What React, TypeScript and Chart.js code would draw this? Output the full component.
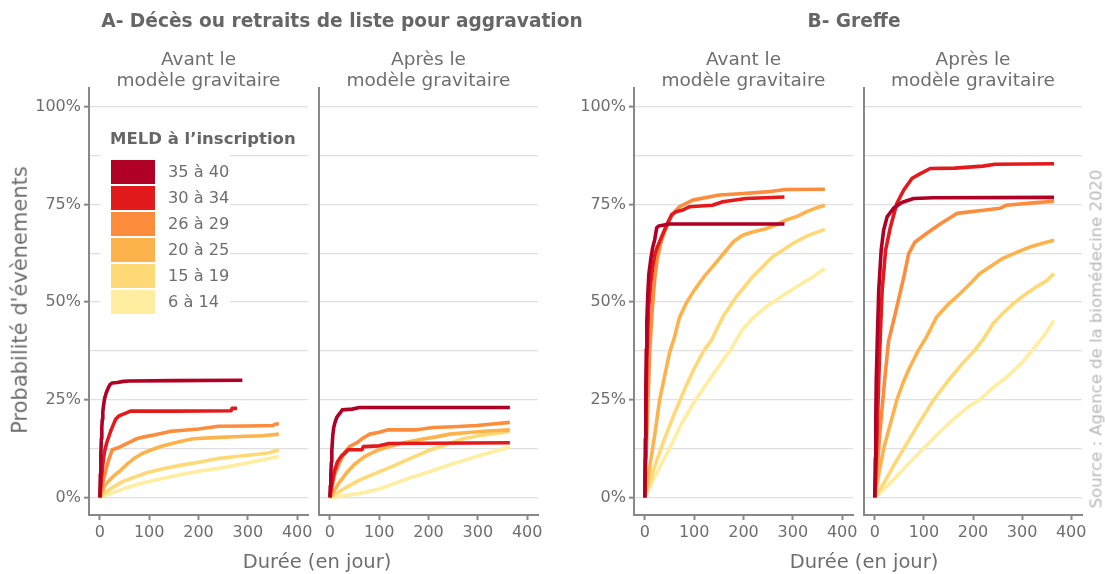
import React, { useEffect, useRef } from 'react';
import { Chart, registerables } from 'chart.js';
Chart.register(...registerables);

type Pt = [number, number];

const MELD_GROUPS = ['35 à 40', '30 à 34', '26 à 29', '20 à 25', '15 à 19', '6 à 14'];
const COLORS = ['#b10026', '#e31a1c', '#fd8d3c', '#feb24c', '#fed976', '#ffeda0'];
const X_TICKS = [0, 100, 200, 300, 400];
const Y_MAJOR = [0, 0.25, 0.5, 0.75, 1];
const Y_MINOR = [0.125, 0.375, 0.625, 0.875];

// A - Avant le modèle gravitaire
const a1_3540: Pt[] = [[0,0],[1,0.06],[2,0.11],[3,0.15],[4,0.18],[5,0.2],[6,0.22],[8,0.24],[10,0.255],[13,0.268],[17,0.28],[20,0.288],[25,0.293],[35,0.294],[48,0.297],[60,0.298],[150,0.299],[289,0.3]];
const a1_3034: Pt[] = [[0,0],[2,0.03],[4,0.06],[6,0.085],[8,0.105],[10,0.12],[14,0.14],[18,0.155],[22,0.17],[27,0.185],[32,0.2],[38,0.208],[45,0.212],[55,0.217],[62,0.221],[150,0.221],[266,0.222],[268,0.228],[278,0.228]];
const a1_2629: Pt[] = [[0,0],[3,0.02],[6,0.04],[10,0.058],[14,0.08],[19,0.1],[25,0.122],[37,0.127],[50,0.135],[62,0.142],[74,0.15],[90,0.155],[110,0.16],[142,0.169],[170,0.172],[200,0.175],[240,0.182],[300,0.183],[351,0.184],[356,0.188],[363,0.188]];
const a1_2025: Pt[] = [[0,0],[5,0.015],[10,0.03],[20,0.045],[30,0.057],[40,0.067],[55,0.085],[70,0.1],[85,0.112],[105,0.122],[125,0.131],[142,0.137],[165,0.144],[189,0.15],[230,0.153],[284,0.156],[330,0.158],[363,0.162]];
const a1_1519: Pt[] = [[0,0],[10,0.012],[25,0.025],[47,0.041],[70,0.052],[95,0.063],[125,0.073],[162,0.082],[200,0.09],[243,0.1],[285,0.106],[325,0.111],[345,0.115],[363,0.122]];
const a1_614: Pt[] = [[0,0],[15,0.007],[35,0.016],[61,0.028],[90,0.038],[125,0.048],[162,0.058],[200,0.067],[243,0.075],[285,0.085],[325,0.095],[363,0.105]];

// A - Après le modèle gravitaire
const a2_3540: Pt[] = [[0,0],[1,0.03],[2,0.06],[3,0.09],[4,0.12],[6,0.16],[8,0.18],[10,0.19],[14,0.205],[20,0.215],[25,0.224],[45,0.226],[60,0.23],[365,0.23]];
const a2_3034: Pt[] = [[0,0],[3,0.025],[5,0.04],[8,0.06],[10,0.07],[15,0.09],[20,0.1],[25,0.108],[32,0.115],[37,0.122],[65,0.122],[68,0.13],[100,0.132],[120,0.138],[365,0.14]];
const a2_2629: Pt[] = [[0,0],[5,0.03],[10,0.06],[15,0.075],[20,0.09],[30,0.115],[41,0.131],[55,0.14],[65,0.15],[81,0.162],[100,0.167],[118,0.173],[176,0.173],[210,0.179],[250,0.181],[298,0.184],[330,0.188],[365,0.192]];
const a2_2025: Pt[] = [[0,0],[10,0.02],[20,0.04],[34,0.063],[50,0.085],[71,0.105],[95,0.12],[122,0.131],[150,0.14],[183,0.148],[215,0.155],[243,0.162],[280,0.166],[320,0.17],[365,0.173]];
const a2_1519: Pt[] = [[0,0],[15,0.012],[35,0.027],[61,0.045],[95,0.063],[128,0.08],[160,0.098],[196,0.118],[230,0.133],[264,0.148],[300,0.158],[335,0.164],[365,0.169]];
const a2_614: Pt[] = [[0,0],[25,0.004],[60,0.01],[95,0.02],[130,0.035],[162,0.05],[200,0.065],[243,0.084],[280,0.098],[320,0.113],[365,0.129]];

// B - Avant le modèle gravitaire
const b1_3540: Pt[] = [[0,0],[1,0.15],[2,0.28],[3,0.38],[4,0.45],[6,0.52],[8,0.57],[12,0.61],[16,0.64],[20,0.66],[24,0.69],[28,0.695],[50,0.7],[283,0.7]];
const b1_3034: Pt[] = [[0,0],[1,0.1],[2,0.2],[4,0.35],[6,0.43],[8,0.49],[12,0.55],[16,0.59],[20,0.62],[25,0.64],[35,0.67],[45,0.7],[55,0.725],[63,0.731],[75,0.735],[90,0.744],[137,0.748],[158,0.757],[205,0.765],[283,0.769]];
const b1_2629: Pt[] = [[0,0],[5,0.2],[10,0.38],[15,0.48],[20,0.56],[25,0.61],[32,0.65],[40,0.68],[53,0.718],[60,0.73],[70,0.744],[97,0.761],[151,0.774],[200,0.778],[246,0.782],[286,0.788],[365,0.789]];
const b1_2025: Pt[] = [[0,0],[10,0.08],[20,0.16],[30,0.25],[40,0.31],[50,0.37],[60,0.41],[70,0.46],[85,0.5],[100,0.53],[120,0.565],[137,0.59],[160,0.625],[180,0.655],[198,0.671],[220,0.68],[246,0.688],[270,0.7],[286,0.71],[310,0.72],[327,0.731],[345,0.74],[365,0.748]];
const b1_1519: Pt[] = [[0,0],[20,0.08],[40,0.15],[60,0.215],[80,0.275],[100,0.33],[120,0.377],[134,0.4],[158,0.462],[185,0.513],[218,0.564],[259,0.616],[300,0.65],[330,0.67],[365,0.686]];
const b1_614: Pt[] = [[0,0],[25,0.065],[50,0.125],[75,0.19],[103,0.25],[130,0.3],[155,0.345],[175,0.38],[198,0.43],[220,0.46],[246,0.488],[286,0.522],[315,0.545],[340,0.564],[365,0.586]];

// B - Après le modèle gravitaire
const b2_3540: Pt[] = [[0,0],[1,0.1],[2,0.2],[3,0.3],[5,0.4],[8,0.53],[13,0.633],[18,0.684],[25,0.718],[38,0.74],[55,0.755],[79,0.765],[120,0.767],[365,0.768]];
const b2_3034: Pt[] = [[0,0],[2,0.06],[4,0.14],[6,0.22],[8,0.3],[10,0.377],[15,0.53],[22,0.633],[32,0.693],[45,0.753],[59,0.787],[76,0.817],[93,0.829],[113,0.842],[163,0.843],[220,0.848],[245,0.853],[365,0.854]];
const b2_2629: Pt[] = [[0,0],[5,0.08],[10,0.16],[15,0.23],[20,0.3],[28,0.4],[32,0.42],[45,0.488],[59,0.564],[69,0.624],[82,0.654],[106,0.676],[133,0.7],[167,0.727],[221,0.735],[255,0.74],[268,0.748],[322,0.754],[365,0.758]];
const b2_2025: Pt[] = [[0,0],[8,0.06],[18,0.125],[30,0.18],[45,0.25],[58,0.295],[70,0.33],[89,0.377],[105,0.41],[126,0.462],[150,0.495],[174,0.522],[195,0.548],[214,0.573],[240,0.595],[261,0.612],[290,0.628],[316,0.641],[340,0.65],[365,0.658]];
const b2_1519: Pt[] = [[0,0],[20,0.04],[40,0.085],[59,0.125],[90,0.19],[120,0.25],[150,0.3],[180,0.345],[204,0.377],[221,0.405],[241,0.445],[260,0.47],[282,0.496],[305,0.518],[329,0.539],[350,0.555],[365,0.573]];
const b2_614: Pt[] = [[0,0],[30,0.035],[60,0.075],[99,0.125],[130,0.165],[160,0.2],[190,0.232],[214,0.25],[240,0.28],[270,0.31],[300,0.345],[329,0.39],[345,0.415],[365,0.453]];

const FONT = 'DejaVu Sans';
const W = 1105;
const H = 574;
const TOP = 88;
const BOTTOM = 515;

const PANELS = [
  { left: 89, right: 308, showY: true, series: [a1_3540, a1_3034, a1_2629, a1_2025, a1_1519, a1_614] },
  { left: 319, right: 538, showY: false, series: [a2_3540, a2_3034, a2_2629, a2_2025, a2_1519, a2_614] },
  { left: 634, right: 853, showY: true, series: [b1_3540, b1_3034, b1_2629, b1_2025, b1_1519, b1_614] },
  { left: 864, right: 1082, showY: false, series: [b2_3540, b2_3034, b2_2629, b2_2025, b2_1519, b2_614] },
];

function makeConfig(p: typeof PANELS[number]): any {
  const yW = p.showY ? 60 : 0;
  const xH = 30;
  const isMajor = (v: number) => Y_MAJOR.some((m) => Math.abs(m - v) < 1e-6);
  return {
    type: 'line',
    data: {
      datasets: p.series.map((s, i) => ({
        label: MELD_GROUPS[i],
        data: s.map(([x, y]) => ({ x, y })),
        borderColor: COLORS[i],
        backgroundColor: COLORS[i],
        borderWidth: 3.6,
        pointRadius: 0,
        tension: 0,
        fill: false,
        borderCapStyle: 'butt',
        borderJoinStyle: 'round',
      })),
    },
    options: {
      animation: false,
      responsive: false,
      maintainAspectRatio: false,
      events: [],
      layout: {
        autoPadding: false,
        padding: { left: p.left - yW, right: W - p.right, top: TOP, bottom: H - BOTTOM - xH },
      },
      plugins: { legend: { display: false }, tooltip: { enabled: false }, title: { display: false } },
      scales: {
        x: {
          type: 'linear',
          min: -22,
          max: 422,
          afterBuildTicks: (sc: any) => { sc.ticks = X_TICKS.map((v) => ({ value: v })); },
          afterFit: (sc: any) => { sc.height = xH; },
          grid: { drawOnChartArea: false, drawTicks: true, tickLength: 5, tickColor: '#888888', tickWidth: 2 },
          border: { display: true, color: '#888888', width: 2 },
          ticks: { color: '#6e6e6e', font: { family: FONT, size: 16 }, padding: 3, maxRotation: 0, autoSkip: false },
        },
        y: {
          type: 'linear',
          min: -0.045,
          max: 1.048,
          afterBuildTicks: (sc: any) => {
            sc.ticks = [...Y_MAJOR, ...Y_MINOR].sort((a, b) => a - b).map((v) => ({ value: v }));
          },
          afterFit: (sc: any) => { sc.width = yW; },
          grid: {
            color: '#e0e0e0',
            lineWidth: 1.3,
            drawTicks: p.showY,
            tickLength: 5,
            tickWidth: 2,
            tickColor: (ctx: any) => (ctx.tick && isMajor(ctx.tick.value) ? '#888888' : 'rgba(0,0,0,0)'),
          },
          border: { display: true, color: '#888888', width: 2 },
          ticks: {
            display: p.showY,
            color: '#6e6e6e',
            font: { family: FONT, size: 16 },
            padding: 3,
            autoSkip: false,
            callback: (v: any) => (isMajor(Number(v)) ? `${Math.round(Number(v) * 100)}%` : ''),
          },
        },
      },
    },
  };
}

function Panel({ p }: { p: typeof PANELS[number] }) {
  const ref = useRef<HTMLCanvasElement | null>(null);
  useEffect(() => {
    if (!ref.current) return;
    const chart = new Chart(ref.current, makeConfig(p));
    return () => chart.destroy();
  }, []);
  return <canvas ref={ref} width={W} height={H} style={{ position: 'absolute', left: 0, top: 0, width: W, height: H }} />;
}

function Txt({ x, y, text, size, bold, color, rotate }: { x: number; y: number; text: string; size: number; bold?: boolean; color?: string; rotate?: boolean }) {
  return (
    <div
      style={{
        position: 'absolute',
        left: x,
        top: y,
        transform: `translate(-50%, -50%)${rotate ? ' rotate(-90deg)' : ''}`,
        fontFamily: FONT,
        fontSize: size,
        fontWeight: bold ? 'bold' : 'normal',
        color: color || '#6e6e6e',
        whiteSpace: 'nowrap',
        lineHeight: 1.164,
      }}
    >
      {text}
    </div>
  );
}

const STRIPS = [['Avant le', 'modèle gravitaire'], ['Après le', 'modèle gravitaire'], ['Avant le', 'modèle gravitaire'], ['Après le', 'modèle gravitaire']];

export default function App() {
  return (
    <div style={{ position: 'absolute', left: 0, top: 0, width: W, height: H, background: '#ffffff', overflow: 'hidden' }}>
      {PANELS.map((p, i) => (
        <Panel key={i} p={p} />
      ))}
      <Txt x={342} y={21} text="A- Décès ou retraits de liste pour aggravation" size={18.6} bold color="#666666" />
      <Txt x={854} y={21} text="B- Greffe" size={18.6} bold color="#666666" />
      {PANELS.map((p, i) => (
        <React.Fragment key={'s' + i}>
          <Txt x={(p.left + p.right) / 2} y={59} text={STRIPS[i][0]} size={18.5} />
          <Txt x={(p.left + p.right) / 2} y={80} text={STRIPS[i][1]} size={18.5} />
        </React.Fragment>
      ))}
      <Txt x={20} y={300} text="Probabilité d'évènements" size={21} rotate />
      <Txt x={317} y={562} text="Durée (en jour)" size={19.5} />
      <Txt x={864} y={562} text="Durée (en jour)" size={19.5} />
      <Txt x={1096} y={339} text="Source : Agence de la biomédecine 2020" size={16.5} color="#b8b8b8" rotate />
      {/* legend */}
      <div style={{ position: 'absolute', left: 100, top: 150, width: 130, height: 166, background: '#ffffff' }} />
      <div style={{ position: 'absolute', left: 110, top: 139, transform: 'translateY(-50%)', fontFamily: FONT, fontSize: 16.5, fontWeight: 'bold', color: '#666666', whiteSpace: 'nowrap', lineHeight: 1.164 }}>
        MELD à l’inscription
      </div>
      {MELD_GROUPS.map((g, i) => (
        <React.Fragment key={'l' + i}>
          <div style={{ position: 'absolute', left: 111, top: 160 + 26 * i, width: 44, height: 23.5, background: COLORS[i] }} />
          <div style={{ position: 'absolute', left: 168, top: 160 + 26 * i + 11.75, transform: 'translateY(-50%)', fontFamily: FONT, fontSize: 16.2, color: '#6e6e6e', whiteSpace: 'nowrap', lineHeight: 1.164 }}>
            {g}
          </div>
        </React.Fragment>
      ))}
    </div>
  );
}
